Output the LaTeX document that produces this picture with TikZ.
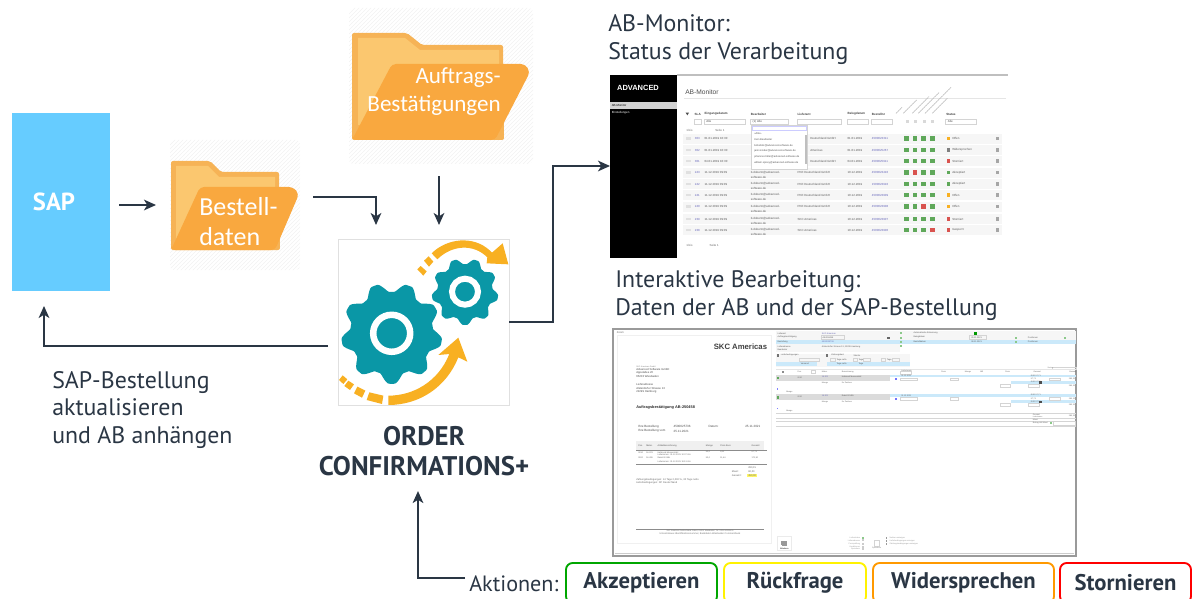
\documentclass[tikz,border=0pt]{standalone}
\usepackage{fontspec}
\setmainfont{PT Sans}
\newfontfamily\folderfont{Carlito}
\newfontfamily\shotfont{Liberation Sans}
\usetikzlibrary{arrows.meta,calc,patterns}
\definecolor{ink}{HTML}{2A3644}
\definecolor{sapblue}{HTML}{66CCFF}
\definecolor{fback}{HTML}{F6B356}
\definecolor{finner}{HTML}{FBC76F}
\definecolor{ffront}{HTML}{F9A83F}
\definecolor{teal}{HTML}{0A97A6}
\definecolor{gold}{HTML}{F8B022}
\definecolor{okgreen}{HTML}{5FA85A}
\definecolor{badred}{HTML}{D9534F}
\definecolor{rowband}{HTML}{F6F6F6}
\definecolor{selblue}{HTML}{CBE9FA}
\definecolor{shotgrey}{HTML}{9A9A9A}
\definecolor{faint}{HTML}{D4D4D4}
\definecolor{tick}{HTML}{8CC98A}
\newcounter{tn}
% tiny screenshot text: x, y, anchor, font size, colour, text
\newcommand{\shot}[6]{\stepcounter{tn}\node[inner sep=0pt,anchor=#3,text=#5,font={\shotfont\fontsize{#4}{#4}\selectfont}] (s\arabic{tn}) at (#1,#2) {#6};}
\newcommand{\gearshape}[6]{\fill[teal] plot[domain=0:360,samples=217,variable=\angv] ({#1+(#3+#4*max(-1,min(1,1.25*cos(9*(\angv-90)))))*cos(\angv)},{#2+(#3+#4*max(-1,min(1,1.25*cos(9*(\angv-90)))))*sin(\angv)});
\draw[white,line width=#6*0.75pt] (#1,#2) circle (#5);}
\tikzset{
 x=0.75pt,y=-0.75pt,
 flow/.style={draw=ink,line width=1.4pt,-{Stealth[length=9pt,width=8pt,inset=2.5pt]}},
 plainbox/.style={inner sep=0pt,outer sep=0pt},
 maintext/.style={inner sep=0pt,anchor=base west,text=ink,font=\fontsize{17.9}{21}\selectfont,align=left},
 foldertext/.style={inner sep=0pt,text=white,font=\folderfont\fontsize{#1}{21}\selectfont},
 action/.style={draw=#1,line width=1.4pt,rounded corners=5pt,inner sep=0pt,text=ink,font=\bfseries\fontsize{17}{20}\selectfont},
 hatchbg/.style={pattern=north east lines,pattern color=black!5},
 fieldbox/.style={draw=faint,line width=.3pt},
}
\begin{document}
\begin{tikzpicture}
\useasboundingbox (0,0) rectangle (1192,599);
\clip (0,0) rectangle (1192,599);

% SAP
\node[plainbox,fill=sapblue,minimum width=98*0.75pt,minimum height=178*0.75pt] (sap) at (61,202) {};
\node[plainbox,text=white,font=\bfseries\fontsize{18.5}{20}\selectfont] (saplabel) at (54,202) {SAP};

% Bestelldaten folder
\node[plainbox,minimum width=130*0.75pt,minimum height=130*0.75pt] (bestell) at (235,205) {};
\fill[hatchbg,rounded corners=3pt] (170,140) rectangle (300,270);
\fill[fback,rounded corners=1.5pt] (171,161) -- (210,161) -- (221,172) -- (279,172) -- (280,250) -- (171,250) -- cycle;
\fill[finner] (176,166) -- (208,166) -- (219,177) -- (275,177) -- (275,240) -- (176,240) -- cycle;
\fill[ffront,rounded corners=3pt] (171,250) -- (171,250) -- (200,187) -- (293,187) -- (299,194) -- (275,250) -- cycle;
\node[foldertext=19.5,anchor=base west] (bestella) at (199,215) {Bestell-};
\node[foldertext=19.5,anchor=base west] (bestellb) at (199,245) {daten};

% Auftrags folder
\node[plainbox,minimum width=185*0.75pt,minimum height=155*0.75pt] (auftrag) at (442,86) {};
\fill[hatchbg,rounded corners=3pt] (349,8) rectangle (533,164);
\fill[fback,rounded corners=1.5pt] (352,33) -- (407,33) -- (422,45) -- (503,45) -- (504,140) -- (352,140) -- cycle;
\fill[finner] (358,38) -- (405,38) -- (420,50) -- (499,50) -- (499,125) -- (358,125) -- cycle;
\fill[ffront,rounded corners=3pt] (352,140) -- (352,140) -- (392,64) -- (525,64) -- (530,72) -- (495,140) -- cycle;
\node[foldertext=17.3,anchor=base east] (auftraga) at (501,84) {Auftrags-};
\node[foldertext=17.3,anchor=base east] (auftragb) at (501,112) {Bestätigungen};

% Gears
\node[plainbox,draw=black!12,line width=0.6pt,fill=white,minimum width=171*0.75pt,minimum height=166*0.75pt] (gears) at (423.5,322) {};
\gearshape{391.7}{333.3}{46}{4.5}{18.5}{6.5}
\gearshape{465}{291.7}{30.5}{2.8}{13}{6}
\begin{scope}[shift={(330,230)},scale=1/3]
 \fill[gold] (305,70) .. controls (350,25) and (430,15) .. (480,62) .. controls (482,64) and (484,66) .. (486,68)
   -- (518,40) -- (535,103) -- (470,100) -- (472,82) .. controls (430,40) and (365,45) .. (322,88) -- cycle;
 \fill[gold] (282,92) -- (296,79) -- (310,95) -- (297,110) -- cycle;
 \fill[gold] (262,118) -- (272,108) -- (290,124) -- (280,137) -- cycle;
 \fill[gold] (175,497) .. controls (250,497) and (325,455) .. (358,372) -- (325,375) -- (385,323) -- (412,395) -- (385,382)
   .. controls (350,470) and (270,525) .. (175,525) -- cycle;
 \fill[gold] (118,487) -- (160,497) -- (156,522) -- (110,510) -- cycle;
 \fill[gold] (82,470) -- (106,482) -- (96,503) -- (72,490) -- cycle;
 \fill[gold] (55,452) -- (72,463) -- (60,480) -- (43,468) -- cycle;
 \fill[gold] (38,436) -- (52,448) -- (40,462) -- (27,450) -- cycle;
\end{scope}

% Title labels
\node[inner sep=0pt,text=ink,anchor=center,align=center,font=\bfseries\fontsize{20.2}{22.5}\selectfont] (order) at (424,451) {ORDER\\[0pt]CONFIRMATIONS+};
\node[maintext] (saplbl) at (52,388) {SAP-Bestellung};
\node[maintext] (saplblb) at (52,415) {aktualisieren};
\node[maintext] (saplblc) at (52,443) {und AB anhängen};
\node[maintext] (montitle) at (608,32) {AB-Monitor:};
\node[maintext] (montitleb) at (608,60) {Status der Verarbeitung};
\node[maintext] (edtitle) at (615,287) {Interaktive Bearbeitung:};
\node[maintext] (edtitleb) at (615,315) {Daten der AB und der SAP-Bestellung};

% Monitor screenshot
\node[plainbox,minimum width=399*0.75pt,minimum height=183*0.75pt] (monitor) at (809.5,166) {};
\fill[black] (610,75) rectangle (677,257.5);
\fill[black!25] (677,74) rectangle (1008,76);
\fill[black!18] (610,102.5) rectangle (677,109);
\shot{638}{88}{center}{5.6}{white}{\bfseries ADVANCED}
\shot{611.5}{105.5}{west}{2.2}{black}{AB-Monitor}
\shot{611.5}{112.5}{west}{2.2}{white}{Einstellungen}
\shot{685}{92.5}{west}{5}{black!70}{AB-Monitor}
\draw[black!10,line width=.3pt] (684,98) -- (1006,98);
\begin{scope}[shift={(600,60)},scale=1/3]
 \foreach \hx/\lab in {283/SLA,313/Eingangsdatum,452/Bearbeiter,592/Lieferant,742/Belegdatum,815/Bestellnr,1038/Status}{
   \shot{\hx}{162}{west}{2.3}{black!75}{\bfseries\lab}}
 \foreach \ax/\bx in {284/303,313/437,452/565,592/725,741/805,815/878,1037/1130}{
   \draw[fieldbox] (\ax,178) rectangle (\bx,193);}
 \foreach \ax in {918,943,968,993}{\fill[black!15] (\ax,180) rectangle (\ax+9,190);}
 \fill[black!70] (257,158) -- (267,158) -- (262,166) -- cycle;
 \shot{318}{185}{west}{2.2}{black!70}{Alle}
 \shot{457}{185}{west}{2.2}{black!70}{(1) Alle}
 \shot{1043}{185}{west}{2.2}{black!70}{Alle}
 \shot{258}{211}{west}{2.2}{black!60}{1 bis}
 \shot{345}{211}{west}{2.2}{black!60}{Seite 1}
 \shot{258}{557}{west}{2.2}{black!60}{1 bis}
 \shot{328}{557}{west}{2.2}{black!60}{Seite 1}
 \foreach \yy/\slv/\dtv/\who/\lfx/\lfv/\bdv/\bnv/\cav/\cbv/\ccv/\cdv/\stv/\scv in {
  235/303/{01.01.2019 10:30}//630/{Deutschland GmbH}/{01.01.2019}/{4500023311}/okgreen/okgreen/okgreen/okgreen/{Offen}/gold,
  270/302/{01.01.2019 10:30}//630/{Americas}/{01.01.2019}/{4500025267}/okgreen/okgreen/okgreen/okgreen/{Widersprochen}/black!50,
  303/301/{04.01.2019 10:30}//630/{Deutschland GmbH}/{04.01.2019}/{4500025911}/okgreen/okgreen/okgreen/okgreen/{Storniert}/badred,
  338/243/{11.12.2019 09:09}/{b.dobertz@advanced-}/592/{PKE Deutschland GmbH}/{10.12.2019}/{4500023410}/okgreen/badred/okgreen/okgreen/{Akzeptiert}/okgreen,
  372/242/{11.12.2019 09:09}/{b.dobertz@advanced-}/592/{PKE Deutschland GmbH}/{10.12.2019}/{1500023910}/okgreen/okgreen/okgreen/okgreen/{Akzeptiert}/okgreen,
  405/241/{11.12.2019 09:09}/{b.dobertz@advanced-}/592/{PKE Deutschland GmbH}/{10.12.2019}/{4500023909}/okgreen/okgreen/okgreen/okgreen/{Offen}/gold,
  440/240/{11.12.2019 09:09}/{b.dobertz@advanced-}/592/{PKE Deutschland GmbH}/{10.12.2019}/{4500023908}/okgreen/okgreen/badred/okgreen/{Offen}/gold,
  477/239/{11.12.2019 09:09}/{b.dobertz@advanced-}/592/{SKC Americas}/{10.12.2019}/{4500023907}/okgreen/okgreen/okgreen/okgreen/{Storniert}/badred,
  510/238/{11.12.2019 09:09}/{b.dobertz@advanced-}/592/{SKC Americas}/{10.12.2019}/{4500023906}/okgreen/okgreen/okgreen/badred/{Gesperrt}/badred}{
   \fill[rowband] (250,\yy-14) rectangle (1205,\yy+16);
   \fill[black!12] (258,\yy-4) rectangle (272,\yy+4);
   \shot{284}{\yy}{west}{2.2}{blue!55!black!60}{\slv}
   \shot{313}{\yy}{west}{2.2}{black!65}{\dtv}
   \shot{452}{\yy}{west}{2.2}{black!65}{\who}
   \shot{\lfx}{\yy}{west}{2.2}{black!65}{\lfv}
   \shot{742}{\yy}{west}{2.2}{black!65}{\bdv}
   \shot{815}{\yy}{west}{2.2}{blue!55!black!60}{\bnv}
   \fill[\cav] (913,\yy-7) rectangle (927,\yy+7);
   \fill[\cbv] (938,\yy-7) rectangle (952,\yy+7);
   \fill[\ccv] (963,\yy-7) rectangle (977,\yy+7);
   \fill[\cdv] (990,\yy-7) rectangle (1004,\yy+7);
   \fill[\scv] (1040,\yy-5) rectangle (1050,\yy+5);
   \shot{1056}{\yy}{west}{2.2}{black!65}{\stv}
   \fill[black!35] (1188,\yy-5) rectangle (1198,\yy+5);
 }
 \foreach \yy in {338,372,405,440,477,510}{\shot{452}{\yy+13}{west}{2.2}{black!65}{software.de}}
 % dropdown
 \fill[white] (453,195) rectangle (623,327);
 \draw[fieldbox] (453,195) rectangle (623,327);
 \draw[draw=blue!20,line width=.3pt] (457,198) rectangle (620,211);
 \fill[black!25] (615,225) rectangle (622,312);
 \foreach \yy/\lab in {222/{«Alle»},239/{Kein Bearbeiter},256/{b.klaholz@advanced-software.de},273/{janin.kinder@advanced-software.de},291/{johannes.fuller@advanced-software.de},308/{william.spicey@advanced-software.de}}{
   \shot{462}{\yy}{west}{1.95}{black!65}{\lab}}
 % slanted column heads
 \foreach \hx/\lnv in {888/18,910/40,937/50,955/62,975/78,997/45}{
   \draw[black!25,line width=.6pt,dash pattern=on 1.5pt off .4pt] (\hx,160) -- ++(\lnv,-\lnv);}
\end{scope}

% Editor screenshot
\node[plainbox,draw=shotgrey,line width=1pt,minimum width=463*0.75pt,minimum height=227*0.75pt] (editor) at (844.5,442.5) {};
\draw[black!20,line width=.8pt] (614.5,553.5) -- (1074,553.5);
\begin{scope}[shift={(600,320)},scale=1/3]
 \shot{50}{37}{west}{2}{black!60}{Zoom}
 \shot{502}{80}{east}{5.8}{black!75}{\bfseries SKC Americas}
 \draw[draw=black!6,line width=.4pt] (52,45) rectangle (515,670);
 \shot{108}{139}{west}{1.5}{black!50}{SKC Americas GmbH}
 \foreach \yy/\lab in {148/{Advanced Software GmbH},158/{Appelallee 20},168/{65203 Wiesbaden},193/{Lieferadresse},204/{Alsterdorfer Strasse 13},215/{22299 Hamburg}}{
   \shot{108}{\yy}{west}{2.1}{black!70}{\lab}}
 \shot{108}{263}{west}{2.9}{black!85}{\bfseries Auftragsbestätigung AB-250458}
 \shot{114}{319}{west}{2.3}{black!70}{Ihre Bestellung}
 \shot{114}{333}{west}{2.3}{black!70}{Ihre Bestellung vom}
 \shot{220}{319}{west}{2.3}{black!70}{4500025736}
 \shot{220}{333}{west}{2.3}{black!70}{25.11.2021}
 \shot{325}{319}{west}{2.3}{black!70}{Datum:}
 \shot{482}{319}{east}{2.3}{black!70}{25.11.2021}
 \fill[black!6] (108,364) rectangle (492,390);
 \draw[black!45,line width=.4pt] (108,391) -- (502,391);
 \foreach \hx/\lab in {114/Pos.,138/Mater.,172/Artikelbezeichnung,317/Menge,360/Preis Euro,454/Gesamt}{
   \shot{\hx}{377}{west}{1.7}{black!65}{\lab}}
 \shot{114}{397}{west}{1.6}{black!60}{0010}
 \shot{138}{397}{west}{1.6}{black!60}{16-201}
 \shot{172}{397}{west}{1.6}{black!60}{Halbrund Messerstahl}
 \shot{172}{404}{west}{1.6}{black!60}{Liefertermin: 01.12.2021 12:37 Uhr}
 \shot{114}{414}{west}{1.6}{black!60}{0020}
 \shot{138}{414}{west}{1.6}{black!60}{16-455}
 \shot{172}{414}{west}{1.6}{black!60}{Rakel B 048L}
 \shot{172}{424}{west}{1.6}{black!60}{Liefertermin: 01.12.2021 19:13 Uhr}
 \shot{317}{397}{west}{1.6}{black!60}{50,0}
 \shot{360}{397}{west}{1.6}{black!60}{8,11}
 \shot{317}{414}{west}{1.6}{black!60}{50,0}
 \shot{360}{414}{west}{1.6}{black!60}{11,44}
 \shot{454}{397}{west}{1.6}{black!60}{57,71}
 \shot{454}{414}{west}{1.6}{black!60}{172,50}
 \draw[black!45,line width=.4pt] (108,433) -- (502,433);
 \shot{444}{442}{west}{1.9}{black!60}{280,15}
 \shot{395}{454}{west}{1.9}{black!60}{Mwst:}
 \shot{444}{454}{west}{1.9}{black!60}{60,00}
 \shot{395}{467}{west}{1.9}{black!60}{Gesamt:}
 \fill[yellow!60] (442,461) rectangle (471,472);
 \shot{444}{467}{west}{1.9}{black!60}{450,00}
 \shot{108}{480}{west}{1.9}{black!60}{Zahlungsbedingungen: 14 Tage 2,000 \%, 30 Tage netto}
 \shot{108}{489}{west}{1.9}{black!60}{Lieferbedingungen: DP Deutschland}
 \draw[black!45,line width=.4pt] (108,628) -- (492,628);
 \shot{300}{633}{center}{1.5}{black!55}{SKC Americas Deutschland GmbH, 65203 Wiesbaden, Tel. 0611 94530000}
 \shot{300}{641}{center}{1.8}{black!55}{Umsatzsteuer-Identifikationsnummer, Bankdaten Wiesbaden Commerzbank}
 \draw[draw=black!8,line width=.5pt] (532,650) rectangle (575,692);
 \fill[black!40] (544,662) rectangle (558,676);
 \shot{553}{685}{center}{1.5}{black!60}{Ablehnen}
\end{scope}
\begin{scope}[shift={(770,320)},scale=1/3]
 % header rows
 \fill[rowband] (18,33) rectangle (918,60);
 \fill[selblue] (18,60) rectangle (918,73);
 \fill[rowband] (18,73) rectangle (390,95);
 \foreach \yy/\lab in {40/Lieferant,52/Auftragsbestätigung,65/Bestellung,79/Lieferadresse,90/Bearbeiter}{
   \shot{22}{\yy}{west}{1.6}{black!65}{\lab}}
 \shot{155}{40}{west}{1.6}{blue!50!black!60}{SKC Americas}
 \draw[fieldbox] (153,47) rectangle (222,58);
 \shot{157}{52}{west}{1.6}{black!65}{AB-250458}
 \shot{155}{65}{west}{1.6}{blue!50!black!60}{4500025736}
 \shot{155}{80}{west}{1.6}{black!65}{Alsterdorfer Strasse 13, 22299 Hamburg}
 \foreach \yy/\lab in {40/Automatische Erkennung,52/Belegdatum,65/Bestelldatum}{
   \shot{430}{\yy}{west}{1.6}{black!65}{\lab}}
 \fill[green!60!black] (612,36) rectangle (622,46);
 \draw[fieldbox] (598,47) rectangle (650,58);
 \shot{603}{52}{west}{1.6}{black!65}{25.11.2021}
 \shot{603}{66}{west}{1.6}{black!65}{08.11.2021}
 \shot{773}{52}{west}{1.6}{black!65}{Positionen}
 \shot{773}{65}{west}{1.6}{black!65}{Positionen}
 \foreach \px/\py in {393/40,393/53,393/66,393/79,737/53,737/66,884/53}{
   \fill[tick] (\px-3,\py-3) rectangle (\px+3,\py+3);}
 \fill[black!60] (352,50) rectangle (359,56);
 % payment block
 \fill[rowband] (18,101) rectangle (420,140);
 \fill[selblue] (18,126) rectangle (140,138);
 \fill[selblue] (170,126) rectangle (420,138);
 \fill[black!55] (20,103) rectangle (26,110);
 \fill[black!55] (169,103) rectangle (175,110);
 \shot{32}{106}{west}{1.6}{black!65}{Lieferbedingungen}
 \shot{183}{106}{west}{1.6}{black!65}{Zahlungsbed.}
 \shot{250}{106}{west}{1.6}{black!65}{Skonto}
 \foreach \ax/\bx in {88/147,180/196,250/262,281/302,333/347,367/388}{\draw[fieldbox] (\ax,114) rectangle (\bx,124);}
 \shot{199}{119}{west}{1.6}{black!65}{Tage netto}
 \shot{265}{119}{west}{1.6}{black!65}{Tage}
 \shot{350}{119}{west}{1.6}{black!65}{Tage}
 \shot{92}{132}{west}{1.6}{black!65}{Versand}
 \shot{199}{132}{west}{1.6}{black!65}{Tage netto}
 \shot{265}{132}{west}{1.6}{black!65}{Tage}
 % table
 \draw[fieldbox] (848,141) rectangle (918,149);
 \shot{832}{144}{west}{1.4}{black!55}{Suche:}
 \draw[draw=black!10,line width=.3pt] (18,148) -- (918,148);
 \foreach \hx/\lab in {82/Pos.,155/Mater.,215/Bezeichnung,513/Preis,584/Menge,630/ME,705/Preis,790/Gesamt,897/Gesamt}{
   \shot{\hx}{155}{west}{1.5}{black!60}{\lab}}
 \shot{393}{151}{west}{1.5}{black!60}{Liefertermin}
 \draw[fieldbox] (392,154) rectangle (424,162);
 \fill[black!45] (36,152) rectangle (43,159);
 \draw[fieldbox] (125,151) rectangle (135,161);
 \foreach \yy/\lab in {164/{Halbrund Messerstahl},222/{Rakel B 048L}}{
   \fill[black!14] (18,\yy) rectangle (360,\yy+19);
   \fill[selblue] (360,\yy) rectangle (918,\yy+8);
   \fill[selblue] (724,\yy+19) rectangle (918,\yy+27);
   \fill[okgreen] (21,\yy+6) rectangle (28,\yy+14);
   \shot{82}{\yy+8}{west}{1.5}{black!60}{0010}
   \shot{155}{\yy+5}{west}{1.5}{blue!50!black!60}{16-201}
   \shot{215}{\yy+5}{west}{1.5}{black!65}{\lab}
   \shot{155}{\yy+24}{west}{1.5}{black!60}{Menge}
   \shot{215}{\yy+24}{west}{1.5}{black!60}{Ihr Zeichen}
   \shot{393}{\yy+4}{west}{1.5}{black!60}{01.12.2021}
   \fill[blue!55] (374,\yy+11) rectangle (380,\yy+17);
   \draw[fieldbox] (390,\yy+10) rectangle (442,\yy+18);
   \draw[fieldbox] (540,\yy+10) rectangle (565,\yy+18);
   \draw[fieldbox] (838,\yy+10) rectangle (870,\yy+18);
   \shot{782}{\yy+4}{west}{1.5}{black!60}{EUR 57,71}
   \shot{782}{\yy+14}{west}{1.5}{black!60}{57,71}
   \shot{782}{\yy+23}{west}{1.5}{black!60}{EUR 57,71}
   \shot{896}{\yy+14}{west}{1.5}{black!60}{280,15}
   \shot{896}{\yy+33}{west}{1.5}{black!60}{280,15}
   \draw[fieldbox] (691,\yy+29) rectangle (722,\yy+38);
   \draw[fieldbox] (776,\yy+29) rectangle (808,\yy+38);
   \fill[black!70] (808,\yy+20) rectangle (816,\yy+27);
   \fill[blue!50] (21,\yy+41) rectangle (25,\yy+45);
   \shot{48}{\yy+52}{west}{1.5}{black!60}{Menge}
 }
 \foreach \yy in {280,294,304,317}{\fill[black!16] (18,\yy) rectangle (918,\yy+1.5);}
 \shot{788}{285}{west}{1.5}{black!60}{Gesamt}
 \shot{896}{287}{west}{1.5}{black!60}{280,15}
 \shot{788}{291}{west}{1.3}{black!60}{Lieferkosten}
 \shot{788}{299}{west}{1.5}{black!60}{Mwst.}
 \shot{788}{310}{west}{1.5}{black!60}{Betrag inkl.Mwst}
 \draw[fieldbox] (849,305) rectangle (916,315);
 \fill[tick] (840,307) rectangle (846,313);
 % footer
 \draw[draw=black!8,line width=.5pt] (21,650) rectangle (65,692);
 \fill[black!40] (36,663) rectangle (50,677);
 \shot{43}{685}{center}{1.5}{black!60}{Ablehnen}
 \foreach \yy/\lab in {654/{Lieferstatus},661/{Lieferadresse},671/{Preisprüfung},680/{Konditionen},688/{Speichern}}{
   \shot{271}{\yy}{east}{1.5}{black!40}{\lab}
   \fill[black!20] (277,\yy-3) rectangle (283,\yy+3);}
 \fill[tick] (277,651) rectangle (283,657);
 \draw[fieldbox] (312,660) rectangle (328,678);
 \shot{320}{685}{center}{1.5}{black!50}{Speichern}
 \foreach \yy/\lab in {654/{Notizen anzeigen},662/{Lieferbedingungen anzeigen},672/{Zahlungsbedingungen anzeigen}}{
   \fill[black!40] (347,\yy-3) rectangle (352,\yy+3);
   \shot{358}{\yy}{west}{1.5}{black!40}{\lab}}
\end{scope}

% Actions
\node[inner sep=0pt,anchor=base west,text=ink,font=\fontsize{16.6}{20}\selectfont] (aktionen) at (469,591) {Aktionen:};
\node[action=green!65!black,minimum width=151*0.75pt,minimum height=40*0.75pt] (akz) at (641.5,583) {\raisebox{-2pt}{Akzeptieren}};
\node[action=yellow,minimum width=142*0.75pt,minimum height=40*0.75pt] (rue) at (795,583) {\raisebox{-2pt}{Rückfrage}};
\node[action=orange!80!yellow,minimum width=181*0.75pt,minimum height=40*0.75pt] (wid) at (963.5,583) {\raisebox{-2pt}{Widersprechen}};
\node[action=red,minimum width=131*0.75pt,minimum height=40*0.75pt] (sto) at (1125.5,583) {\raisebox{-2pt}{Stornieren}};

% Connectors
\draw[flow] ($(sap.east)+(9,3)$) -- ($(bestell.west)+(-14,0)$);
\draw[flow] ($(bestell.east)+(13,-8)$) -| ($(gears.north west)+(38,-14)$);
\draw[flow] ($(auftrag.south)+(-3,13)$) -- ($(gears.north)+(15.5,-14)$);
\draw[flow] (gears.east) -- ++(44,0) |- (monitor.west);
\draw[flow] ($(gears.west)+(-10,24)$) -| ($(sap.south)+(-17,15)$);
\draw[flow] ($(aktionen.west)+(-4,-5)$) -| ($(order.south)+(-6,15)$);
\end{tikzpicture}
\end{document}
